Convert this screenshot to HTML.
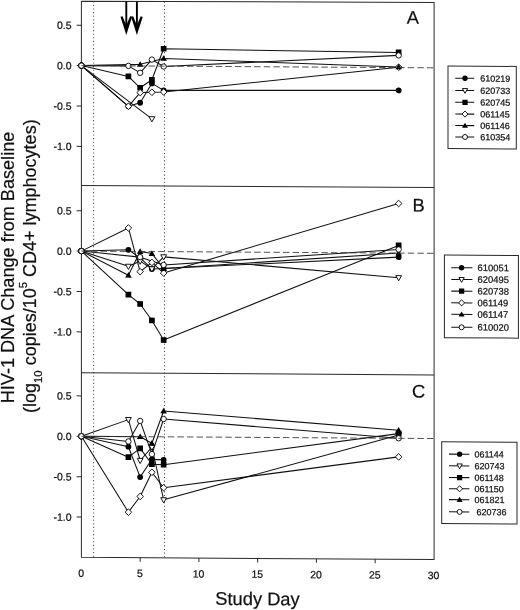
<!DOCTYPE html>
<html><head><meta charset="utf-8"><title>HIV-1 DNA Change from Baseline</title>
<style>html,body{margin:0;padding:0;background:#fff}body{width:520px;height:610px;position:relative;overflow:hidden}svg text{stroke:#111;stroke-width:.22px}</style>
</head><body>
<svg width="520" height="610" viewBox="0 0 520 610" style="display:block;position:absolute;left:0;top:0" font-family='"Liberation Sans", sans-serif' fill="#111">
<rect width="520" height="610" fill="#fff"/>
<g transform="translate(81.4 0) skewY(0.361) translate(-81.4 0)">
<line x1="93.6" y1="1.2" x2="93.6" y2="557.3" stroke="#4a4a4a" stroke-width="1" stroke-dasharray="1.1 2.5"/>
<line x1="164.5" y1="1.2" x2="164.5" y2="557.3" stroke="#4a4a4a" stroke-width="1" stroke-dasharray="1.1 2.5"/>
<path d="M81.4 1.2L81.4 557.3L434.1 557.3L434.1 0.29999999999999993Z" fill="none" stroke="#2a2a2a" stroke-width="1" stroke-linejoin="miter"/>
<line x1="81.4" y1="185.4" x2="434.1" y2="185.4" stroke="#2a2a2a" stroke-width="1"/>
<line x1="81.4" y1="372.7" x2="434.1" y2="372.7" stroke="#2a2a2a" stroke-width="1"/>
<line x1="76.60" y1="25.20" x2="81.4" y2="25.20" stroke="#2a2a2a" stroke-width="1"/>
<line x1="76.60" y1="65.60" x2="81.4" y2="65.60" stroke="#2a2a2a" stroke-width="1"/>
<line x1="76.60" y1="106.00" x2="81.4" y2="106.00" stroke="#2a2a2a" stroke-width="1"/>
<line x1="76.60" y1="146.40" x2="81.4" y2="146.40" stroke="#2a2a2a" stroke-width="1"/>
<line x1="76.60" y1="210.70" x2="81.4" y2="210.70" stroke="#2a2a2a" stroke-width="1"/>
<line x1="76.60" y1="251.10" x2="81.4" y2="251.10" stroke="#2a2a2a" stroke-width="1"/>
<line x1="76.60" y1="291.50" x2="81.4" y2="291.50" stroke="#2a2a2a" stroke-width="1"/>
<line x1="76.60" y1="331.90" x2="81.4" y2="331.90" stroke="#2a2a2a" stroke-width="1"/>
<line x1="76.60" y1="395.90" x2="81.4" y2="395.90" stroke="#2a2a2a" stroke-width="1"/>
<line x1="76.60" y1="436.30" x2="81.4" y2="436.30" stroke="#2a2a2a" stroke-width="1"/>
<line x1="76.60" y1="476.70" x2="81.4" y2="476.70" stroke="#2a2a2a" stroke-width="1"/>
<line x1="76.60" y1="517.10" x2="81.4" y2="517.10" stroke="#2a2a2a" stroke-width="1"/>
<line x1="140.15" y1="557.3" x2="140.15" y2="561.3" stroke="#2a2a2a" stroke-width="1"/>
<line x1="198.90" y1="557.3" x2="198.90" y2="561.3" stroke="#2a2a2a" stroke-width="1"/>
<line x1="257.65" y1="557.3" x2="257.65" y2="561.3" stroke="#2a2a2a" stroke-width="1"/>
<line x1="316.40" y1="557.3" x2="316.40" y2="561.3" stroke="#2a2a2a" stroke-width="1"/>
<line x1="375.15" y1="557.3" x2="375.15" y2="561.3" stroke="#2a2a2a" stroke-width="1"/>
<line x1="126.3" y1="1.2" x2="126.3" y2="27" stroke="#000" stroke-width="1.9"/>
<path d="M126.3 34.6L120.5 16.5L122.5 16.0L126.3 25.0L130.1 16.0L132.1 16.5Z" fill="#000"/>
<line x1="136.9" y1="1.2" x2="136.9" y2="27" stroke="#000" stroke-width="1.9"/>
<path d="M136.9 34.6L131.1 16.5L133.1 16.0L136.9 25.0L140.70000000000002 16.0L142.70000000000002 16.5Z" fill="#000"/>
<path d="M81.40 65.60 L128.40 106.00 L140.15 102.36 L151.90 82.97 L163.65 89.84 L398.65 88.39" fill="none" stroke="#111" stroke-width="1.05" stroke-linejoin="round"/>
<path d="M81.40 65.60 L151.90 118.36" fill="none" stroke="#111" stroke-width="1.05" stroke-linejoin="round"/>
<path d="M81.40 65.60 L128.40 76.10 L140.15 87.42 L151.90 79.34 L163.65 48.23 L398.65 50.41" fill="none" stroke="#111" stroke-width="1.05" stroke-linejoin="round"/>
<path d="M81.40 65.60 L128.40 106.00 L140.15 92.26 L151.90 91.86 L163.65 91.46 L398.65 65.20" fill="none" stroke="#111" stroke-width="1.05" stroke-linejoin="round"/>
<path d="M81.40 65.60 L140.15 63.98 L163.65 57.92 L398.65 64.95" fill="none" stroke="#111" stroke-width="1.05" stroke-linejoin="round"/>
<path d="M81.40 65.60 L128.40 65.60 L140.15 72.47 L151.90 59.14 L163.65 66.00 L398.65 53.40" fill="none" stroke="#111" stroke-width="1.05" stroke-linejoin="round"/>
<circle cx="81.40" cy="65.60" r="2.70" fill="#fff" stroke="#000" stroke-width="0.9"/>
<circle cx="128.40" cy="106.00" r="2.90" fill="#000"/>
<circle cx="140.15" cy="102.36" r="2.90" fill="#000"/>
<circle cx="151.90" cy="82.97" r="2.90" fill="#000"/>
<circle cx="163.65" cy="89.84" r="2.90" fill="#000"/>
<circle cx="398.65" cy="88.39" r="2.90" fill="#000"/>
<circle cx="81.40" cy="65.60" r="2.70" fill="#fff" stroke="#000" stroke-width="0.9"/>
<path d="M149.00 116.26L154.80 116.26L151.90 121.46Z" fill="#fff" stroke="#000" stroke-width="0.9"/>
<circle cx="81.40" cy="65.60" r="2.70" fill="#fff" stroke="#000" stroke-width="0.9"/>
<rect x="125.55" y="73.25" width="5.70" height="5.70" fill="#000"/>
<rect x="137.30" y="84.57" width="5.70" height="5.70" fill="#000"/>
<rect x="149.05" y="76.49" width="5.70" height="5.70" fill="#000"/>
<rect x="160.80" y="45.38" width="5.70" height="5.70" fill="#000"/>
<rect x="395.80" y="47.56" width="5.70" height="5.70" fill="#000"/>
<circle cx="81.40" cy="65.60" r="2.70" fill="#fff" stroke="#000" stroke-width="0.9"/>
<path d="M128.40 102.70L131.70 106.00L128.40 109.30L125.10 106.00Z" fill="#fff" stroke="#000" stroke-width="0.9"/>
<path d="M140.15 88.96L143.45 92.26L140.15 95.56L136.85 92.26Z" fill="#fff" stroke="#000" stroke-width="0.9"/>
<path d="M151.90 88.56L155.20 91.86L151.90 95.16L148.60 91.86Z" fill="#fff" stroke="#000" stroke-width="0.9"/>
<path d="M163.65 88.16L166.95 91.46L163.65 94.76L160.35 91.46Z" fill="#fff" stroke="#000" stroke-width="0.9"/>
<path d="M398.65 61.90L401.95 65.20L398.65 68.50L395.35 65.20Z" fill="#fff" stroke="#000" stroke-width="0.9"/>
<circle cx="81.40" cy="65.60" r="2.70" fill="#fff" stroke="#000" stroke-width="0.9"/>
<path d="M140.15 60.78L143.45 66.38L136.85 66.38Z" fill="#000"/>
<path d="M163.65 54.72L166.95 60.32L160.35 60.32Z" fill="#000"/>
<path d="M398.65 61.75L401.95 67.35L395.35 67.35Z" fill="#000"/>
<circle cx="81.40" cy="65.60" r="2.70" fill="#fff" stroke="#000" stroke-width="0.9"/>
<circle cx="128.40" cy="65.60" r="2.70" fill="#fff" stroke="#000" stroke-width="0.9"/>
<circle cx="140.15" cy="72.47" r="2.70" fill="#fff" stroke="#000" stroke-width="0.9"/>
<circle cx="151.90" cy="59.14" r="2.70" fill="#fff" stroke="#000" stroke-width="0.9"/>
<circle cx="163.65" cy="66.00" r="2.70" fill="#fff" stroke="#000" stroke-width="0.9"/>
<circle cx="398.65" cy="53.40" r="2.70" fill="#fff" stroke="#000" stroke-width="0.9"/>
<path d="M81.40 251.10 L128.40 249.48 L140.15 257.56 L151.90 268.47 L163.65 268.07 L398.65 255.14" fill="none" stroke="#111" stroke-width="1.05" stroke-linejoin="round"/>
<path d="M81.40 251.10 L128.40 266.05 L140.15 260.80 L151.90 268.47 L163.65 256.35 L398.65 275.74" fill="none" stroke="#111" stroke-width="1.05" stroke-linejoin="round"/>
<path d="M81.40 251.10 L128.40 294.33 L140.15 303.62 L151.90 320.02 L163.65 339.50 L398.65 243.42" fill="none" stroke="#111" stroke-width="1.05" stroke-linejoin="round"/>
<path d="M81.40 251.10 L128.40 227.67 L140.15 271.30 L151.90 262.01 L163.65 272.51 L398.65 201.49" fill="none" stroke="#111" stroke-width="1.05" stroke-linejoin="round"/>
<path d="M81.40 251.10 L128.40 274.94 L140.15 251.10 L151.90 253.12 L163.65 268.07 L398.65 251.10" fill="none" stroke="#111" stroke-width="1.05" stroke-linejoin="round"/>
<path d="M81.40 251.10 L140.15 256.76 L163.65 264.43 L398.65 247.46" fill="none" stroke="#111" stroke-width="1.05" stroke-linejoin="round"/>
<circle cx="81.40" cy="251.10" r="2.70" fill="#fff" stroke="#000" stroke-width="0.9"/>
<circle cx="128.40" cy="249.48" r="2.90" fill="#000"/>
<circle cx="140.15" cy="257.56" r="2.90" fill="#000"/>
<circle cx="151.90" cy="268.47" r="2.90" fill="#000"/>
<circle cx="163.65" cy="268.07" r="2.90" fill="#000"/>
<circle cx="398.65" cy="255.14" r="2.90" fill="#000"/>
<circle cx="81.40" cy="251.10" r="2.70" fill="#fff" stroke="#000" stroke-width="0.9"/>
<path d="M125.50 263.95L131.30 263.95L128.40 269.15Z" fill="#fff" stroke="#000" stroke-width="0.9"/>
<path d="M137.25 258.70L143.05 258.70L140.15 263.90Z" fill="#fff" stroke="#000" stroke-width="0.9"/>
<path d="M149.00 266.37L154.80 266.37L151.90 271.57Z" fill="#fff" stroke="#000" stroke-width="0.9"/>
<path d="M160.75 254.25L166.55 254.25L163.65 259.45Z" fill="#fff" stroke="#000" stroke-width="0.9"/>
<path d="M395.75 273.64L401.55 273.64L398.65 278.84Z" fill="#fff" stroke="#000" stroke-width="0.9"/>
<circle cx="81.40" cy="251.10" r="2.70" fill="#fff" stroke="#000" stroke-width="0.9"/>
<rect x="125.55" y="291.48" width="5.70" height="5.70" fill="#000"/>
<rect x="137.30" y="300.77" width="5.70" height="5.70" fill="#000"/>
<rect x="149.05" y="317.17" width="5.70" height="5.70" fill="#000"/>
<rect x="160.80" y="336.65" width="5.70" height="5.70" fill="#000"/>
<rect x="395.80" y="240.57" width="5.70" height="5.70" fill="#000"/>
<circle cx="81.40" cy="251.10" r="2.70" fill="#fff" stroke="#000" stroke-width="0.9"/>
<path d="M128.40 224.37L131.70 227.67L128.40 230.97L125.10 227.67Z" fill="#fff" stroke="#000" stroke-width="0.9"/>
<path d="M140.15 268.00L143.45 271.30L140.15 274.60L136.85 271.30Z" fill="#fff" stroke="#000" stroke-width="0.9"/>
<path d="M151.90 258.71L155.20 262.01L151.90 265.31L148.60 262.01Z" fill="#fff" stroke="#000" stroke-width="0.9"/>
<path d="M163.65 269.21L166.95 272.51L163.65 275.81L160.35 272.51Z" fill="#fff" stroke="#000" stroke-width="0.9"/>
<path d="M398.65 198.19L401.95 201.49L398.65 204.79L395.35 201.49Z" fill="#fff" stroke="#000" stroke-width="0.9"/>
<circle cx="81.40" cy="251.10" r="2.70" fill="#fff" stroke="#000" stroke-width="0.9"/>
<path d="M128.40 271.74L131.70 277.34L125.10 277.34Z" fill="#000"/>
<path d="M140.15 247.90L143.45 253.50L136.85 253.50Z" fill="#000"/>
<path d="M151.90 249.92L155.20 255.52L148.60 255.52Z" fill="#000"/>
<path d="M163.65 264.87L166.95 270.47L160.35 270.47Z" fill="#000"/>
<path d="M398.65 247.90L401.95 253.50L395.35 253.50Z" fill="#000"/>
<circle cx="81.40" cy="251.10" r="2.70" fill="#fff" stroke="#000" stroke-width="0.9"/>
<circle cx="140.15" cy="256.76" r="2.70" fill="#fff" stroke="#000" stroke-width="0.9"/>
<circle cx="163.65" cy="264.43" r="2.70" fill="#fff" stroke="#000" stroke-width="0.9"/>
<circle cx="398.65" cy="247.46" r="2.70" fill="#fff" stroke="#000" stroke-width="0.9"/>
<path d="M81.40 436.30 L128.40 446.40 L140.15 476.70 L151.90 458.92 L163.65 459.33" fill="none" stroke="#111" stroke-width="1.05" stroke-linejoin="round"/>
<path d="M81.40 436.30 L128.40 419.33 L140.15 460.14 L151.90 446.80 L163.65 499.32 L398.65 433.07" fill="none" stroke="#111" stroke-width="1.05" stroke-linejoin="round"/>
<path d="M81.40 436.30 L128.40 456.90 L140.15 448.02 L151.90 463.77 L163.65 464.18 L398.65 431.61" fill="none" stroke="#111" stroke-width="1.05" stroke-linejoin="round"/>
<path d="M81.40 436.30 L128.40 511.85 L140.15 496.09 L151.90 471.85 L163.65 487.20 L398.65 454.88" fill="none" stroke="#111" stroke-width="1.05" stroke-linejoin="round"/>
<path d="M81.40 436.30 L140.15 436.30 L151.90 442.76 L163.65 410.44 L398.65 428.22" fill="none" stroke="#111" stroke-width="1.05" stroke-linejoin="round"/>
<path d="M81.40 436.30 L128.40 441.15 L140.15 420.54 L151.90 453.67 L163.65 418.52 L398.65 436.30" fill="none" stroke="#111" stroke-width="1.05" stroke-linejoin="round"/>
<circle cx="81.40" cy="436.30" r="2.70" fill="#fff" stroke="#000" stroke-width="0.9"/>
<circle cx="128.40" cy="446.40" r="2.90" fill="#000"/>
<circle cx="140.15" cy="476.70" r="2.90" fill="#000"/>
<circle cx="151.90" cy="458.92" r="2.90" fill="#000"/>
<circle cx="163.65" cy="459.33" r="2.90" fill="#000"/>
<circle cx="81.40" cy="436.30" r="2.70" fill="#fff" stroke="#000" stroke-width="0.9"/>
<path d="M125.50 417.23L131.30 417.23L128.40 422.43Z" fill="#fff" stroke="#000" stroke-width="0.9"/>
<path d="M137.25 458.04L143.05 458.04L140.15 463.24Z" fill="#fff" stroke="#000" stroke-width="0.9"/>
<path d="M149.00 444.70L154.80 444.70L151.90 449.90Z" fill="#fff" stroke="#000" stroke-width="0.9"/>
<path d="M160.75 497.22L166.55 497.22L163.65 502.42Z" fill="#fff" stroke="#000" stroke-width="0.9"/>
<path d="M395.75 430.97L401.55 430.97L398.65 436.17Z" fill="#fff" stroke="#000" stroke-width="0.9"/>
<circle cx="81.40" cy="436.30" r="2.70" fill="#fff" stroke="#000" stroke-width="0.9"/>
<rect x="125.55" y="454.05" width="5.70" height="5.70" fill="#000"/>
<rect x="137.30" y="445.17" width="5.70" height="5.70" fill="#000"/>
<rect x="149.05" y="460.92" width="5.70" height="5.70" fill="#000"/>
<rect x="160.80" y="461.33" width="5.70" height="5.70" fill="#000"/>
<rect x="395.80" y="428.76" width="5.70" height="5.70" fill="#000"/>
<circle cx="81.40" cy="436.30" r="2.70" fill="#fff" stroke="#000" stroke-width="0.9"/>
<path d="M128.40 508.55L131.70 511.85L128.40 515.15L125.10 511.85Z" fill="#fff" stroke="#000" stroke-width="0.9"/>
<path d="M140.15 492.79L143.45 496.09L140.15 499.39L136.85 496.09Z" fill="#fff" stroke="#000" stroke-width="0.9"/>
<path d="M151.90 468.55L155.20 471.85L151.90 475.15L148.60 471.85Z" fill="#fff" stroke="#000" stroke-width="0.9"/>
<path d="M163.65 483.90L166.95 487.20L163.65 490.50L160.35 487.20Z" fill="#fff" stroke="#000" stroke-width="0.9"/>
<path d="M398.65 451.58L401.95 454.88L398.65 458.18L395.35 454.88Z" fill="#fff" stroke="#000" stroke-width="0.9"/>
<circle cx="81.40" cy="436.30" r="2.70" fill="#fff" stroke="#000" stroke-width="0.9"/>
<path d="M140.15 433.10L143.45 438.70L136.85 438.70Z" fill="#000"/>
<path d="M151.90 439.56L155.20 445.16L148.60 445.16Z" fill="#000"/>
<path d="M163.65 407.24L166.95 412.84L160.35 412.84Z" fill="#000"/>
<path d="M398.65 425.02L401.95 430.62L395.35 430.62Z" fill="#000"/>
<circle cx="81.40" cy="436.30" r="2.70" fill="#fff" stroke="#000" stroke-width="0.9"/>
<circle cx="128.40" cy="441.15" r="2.70" fill="#fff" stroke="#000" stroke-width="0.9"/>
<circle cx="140.15" cy="420.54" r="2.70" fill="#fff" stroke="#000" stroke-width="0.9"/>
<circle cx="151.90" cy="453.67" r="2.70" fill="#fff" stroke="#000" stroke-width="0.9"/>
<circle cx="163.65" cy="418.52" r="2.70" fill="#fff" stroke="#000" stroke-width="0.9"/>
<circle cx="398.65" cy="436.30" r="2.70" fill="#fff" stroke="#000" stroke-width="0.9"/>
<line x1="81.4" y1="65.6" x2="434.1" y2="65.6" stroke="#333" stroke-width="0.85" stroke-dasharray="6.4 3.2"/>
<line x1="81.4" y1="251.1" x2="434.1" y2="251.1" stroke="#333" stroke-width="0.85" stroke-dasharray="6.4 3.2"/>
<line x1="81.4" y1="436.3" x2="434.1" y2="436.3" stroke="#333" stroke-width="0.85" stroke-dasharray="6.4 3.2"/>
<text x="71.6" y="29.00" font-size="10.5" text-anchor="end">0.5</text>
<text x="71.6" y="69.40" font-size="10.5" text-anchor="end">0.0</text>
<text x="71.6" y="109.80" font-size="10.5" text-anchor="end">-0.5</text>
<text x="71.6" y="150.20" font-size="10.5" text-anchor="end">-1.0</text>
<text x="71.6" y="214.50" font-size="10.5" text-anchor="end">0.5</text>
<text x="71.6" y="254.90" font-size="10.5" text-anchor="end">0.0</text>
<text x="71.6" y="295.30" font-size="10.5" text-anchor="end">-0.5</text>
<text x="71.6" y="335.70" font-size="10.5" text-anchor="end">-1.0</text>
<text x="71.6" y="399.70" font-size="10.5" text-anchor="end">0.5</text>
<text x="71.6" y="440.10" font-size="10.5" text-anchor="end">0.0</text>
<text x="71.6" y="480.50" font-size="10.5" text-anchor="end">-0.5</text>
<text x="71.6" y="520.90" font-size="10.5" text-anchor="end">-1.0</text>
<text x="81.10" y="576.7" font-size="10.5" text-anchor="middle">0</text>
<text x="139.85" y="576.7" font-size="10.5" text-anchor="middle">5</text>
<text x="198.60" y="576.7" font-size="10.5" text-anchor="middle">10</text>
<text x="257.35" y="576.7" font-size="10.5" text-anchor="middle">15</text>
<text x="316.10" y="576.7" font-size="10.5" text-anchor="middle">20</text>
<text x="374.85" y="576.7" font-size="10.5" text-anchor="middle">25</text>
<text x="433.60" y="576.7" font-size="10.5" text-anchor="middle">30</text>
<text x="412.8" y="21.61" font-size="18.3" text-anchor="middle">A</text>
<text x="418.7" y="209.47" font-size="18.3" text-anchor="middle">B</text>
<text x="418.7" y="395.47" font-size="18.3" text-anchor="middle">C</text>
<text x="257.5" y="603.99" font-size="18.3" text-anchor="middle">Study Day</text>
</g>
<text transform="translate(14.2 267.5) rotate(-90)" font-size="18.1" text-anchor="middle">HIV-1 DNA Change from Baseline</text>
<text transform="translate(36.4 266.2) rotate(-90)" font-size="18.0" text-anchor="middle">(log<tspan font-size="11.4" dy="5.4">10</tspan><tspan dy="-5.4"> copies/10</tspan><tspan font-size="11.4" dy="-9.4">5</tspan><tspan dy="9.4"> CD4+ lymphocytes)</tspan></text>
<g transform="translate(81.4 0) skewY(0.361) translate(-81.4 0)">
<rect x="448.0" y="63.67498566836965" width="68.30" height="82.60" fill="#fff" stroke="#2a2a2a" stroke-width="1"/>
<line x1="455.3" y1="75.87498566836965" x2="474.2" y2="75.87498566836965" stroke="#111" stroke-width="1.05"/>
<circle cx="465.00" cy="75.87" r="2.67" fill="#000"/>
<text x="480.3" y="79.07" font-size="9.0">610219</text>
<line x1="455.3" y1="88.07498566836964" x2="474.2" y2="88.07498566836964" stroke="#111" stroke-width="1.05"/>
<path d="M462.33 86.14L467.67 86.14L465.00 90.93Z" fill="#fff" stroke="#000" stroke-width="0.9"/>
<text x="480.3" y="91.27" font-size="9.0">620733</text>
<line x1="455.3" y1="99.87498566836965" x2="474.2" y2="99.87498566836965" stroke="#111" stroke-width="1.05"/>
<rect x="462.38" y="97.25" width="5.24" height="5.24" fill="#000"/>
<text x="480.3" y="103.07" font-size="9.0">620745</text>
<line x1="455.3" y1="111.67498566836964" x2="474.2" y2="111.67498566836964" stroke="#111" stroke-width="1.05"/>
<path d="M465.00 108.64L468.04 111.67L465.00 114.71L461.96 111.67Z" fill="#fff" stroke="#000" stroke-width="0.9"/>
<text x="480.3" y="114.87" font-size="9.0">061145</text>
<line x1="455.3" y1="123.17498566836964" x2="474.2" y2="123.17498566836964" stroke="#111" stroke-width="1.05"/>
<path d="M465.00 120.23L468.04 125.38L461.96 125.38Z" fill="#000"/>
<text x="480.3" y="126.37" font-size="9.0">061146</text>
<line x1="455.3" y1="134.57498566836964" x2="474.2" y2="134.57498566836964" stroke="#111" stroke-width="1.05"/>
<circle cx="465.00" cy="134.57" r="2.48" fill="#fff" stroke="#000" stroke-width="0.9"/>
<text x="480.3" y="137.77" font-size="9.0">610354</text>
<rect x="444.4" y="252.7797112098512" width="74.00" height="82.60" fill="#fff" stroke="#2a2a2a" stroke-width="1"/>
<line x1="451.3" y1="265.37971120985117" x2="472.4" y2="265.37971120985117" stroke="#111" stroke-width="1.05"/>
<circle cx="461.60" cy="265.38" r="2.67" fill="#000"/>
<text x="477.6" y="268.58" font-size="9.4">610051</text>
<line x1="451.3" y1="277.0797112098512" x2="472.4" y2="277.0797112098512" stroke="#111" stroke-width="1.05"/>
<path d="M458.93 275.15L464.27 275.15L461.60 279.93Z" fill="#fff" stroke="#000" stroke-width="0.9"/>
<text x="477.6" y="280.28" font-size="9.4">620495</text>
<line x1="451.3" y1="288.7797112098512" x2="472.4" y2="288.7797112098512" stroke="#111" stroke-width="1.05"/>
<rect x="458.98" y="286.16" width="5.24" height="5.24" fill="#000"/>
<text x="477.6" y="291.98" font-size="9.4">620738</text>
<line x1="451.3" y1="300.4797112098512" x2="472.4" y2="300.4797112098512" stroke="#111" stroke-width="1.05"/>
<path d="M461.60 297.44L464.64 300.48L461.60 303.52L458.56 300.48Z" fill="#fff" stroke="#000" stroke-width="0.9"/>
<text x="477.6" y="303.68" font-size="9.4">061149</text>
<line x1="451.3" y1="311.9797112098512" x2="472.4" y2="311.9797112098512" stroke="#111" stroke-width="1.05"/>
<path d="M461.60 309.04L464.64 314.19L458.56 314.19Z" fill="#000"/>
<text x="477.6" y="315.18" font-size="9.4">061147</text>
<line x1="451.3" y1="324.87971120985117" x2="472.4" y2="324.87971120985117" stroke="#111" stroke-width="1.05"/>
<circle cx="461.60" cy="324.88" r="2.48" fill="#fff" stroke="#000" stroke-width="0.9"/>
<text x="477.6" y="328.08" font-size="9.4">610020</text>
<rect x="441.7" y="439.4926276899007" width="75.30" height="81.70" fill="#fff" stroke="#2a2a2a" stroke-width="1"/>
<line x1="449.0" y1="451.7926276899007" x2="469.3" y2="451.7926276899007" stroke="#111" stroke-width="1.05"/>
<circle cx="459.60" cy="451.79" r="2.67" fill="#000"/>
<text x="474.5" y="454.99" font-size="9.0">061144</text>
<line x1="449.0" y1="463.4926276899007" x2="469.3" y2="463.4926276899007" stroke="#111" stroke-width="1.05"/>
<path d="M456.93 461.56L462.27 461.56L459.60 466.34Z" fill="#fff" stroke="#000" stroke-width="0.9"/>
<text x="474.5" y="466.69" font-size="9.0">620743</text>
<line x1="449.0" y1="475.1926276899007" x2="469.3" y2="475.1926276899007" stroke="#111" stroke-width="1.05"/>
<rect x="456.98" y="472.57" width="5.24" height="5.24" fill="#000"/>
<text x="474.5" y="478.39" font-size="9.0">061148</text>
<line x1="449.0" y1="486.3926276899007" x2="469.3" y2="486.3926276899007" stroke="#111" stroke-width="1.05"/>
<path d="M459.60 483.36L462.64 486.39L459.60 489.43L456.56 486.39Z" fill="#fff" stroke="#000" stroke-width="0.9"/>
<text x="474.5" y="489.59" font-size="9.0">061150</text>
<line x1="449.0" y1="497.2926276899007" x2="469.3" y2="497.2926276899007" stroke="#111" stroke-width="1.05"/>
<path d="M459.60 494.35L462.64 499.50L456.56 499.50Z" fill="#000"/>
<text x="474.5" y="500.49" font-size="9.0">061821</text>
<line x1="449.0" y1="509.4926276899007" x2="469.3" y2="509.4926276899007" stroke="#111" stroke-width="1.05"/>
<circle cx="459.60" cy="509.49" r="2.48" fill="#fff" stroke="#000" stroke-width="0.9"/>
<text x="476.5" y="512.69" font-size="9.0">620736</text>
</g>
</svg>
</body></html>
